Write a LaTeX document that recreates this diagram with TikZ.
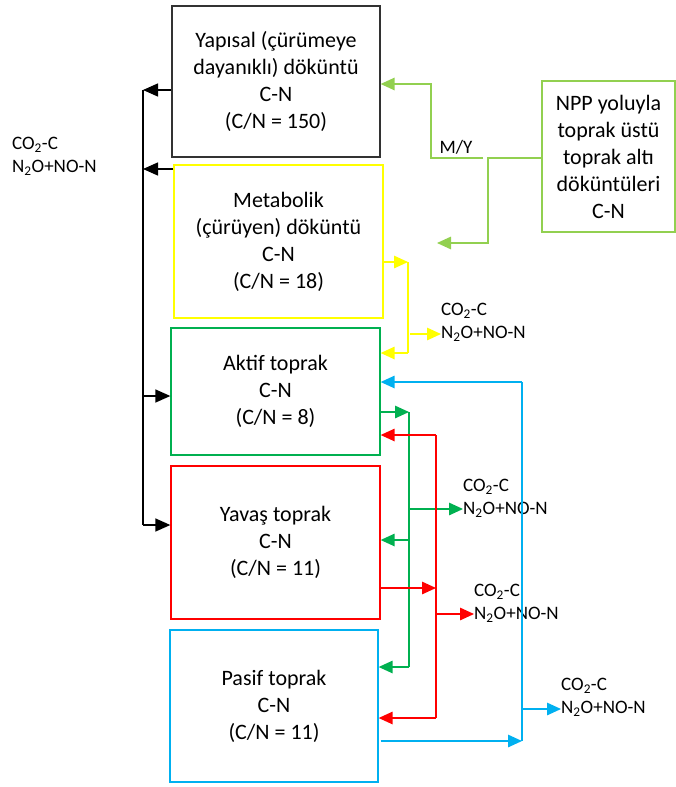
\documentclass[tikz,border=0pt]{standalone}
\usepackage{fontspec}
\setmainfont{Carlito}
\usetikzlibrary{arrows.meta}
\definecolor{cDark}{RGB}{50,50,50}
\definecolor{cYel}{RGB}{255,255,0}
\definecolor{cGrn}{RGB}{0,176,80}
\definecolor{cLgr}{RGB}{146,208,80}
\definecolor{cRed}{RGB}{255,0,0}
\definecolor{cBlu}{RGB}{0,176,240}
\begin{document}
\begin{tikzpicture}[x=1pt,y=-1pt,
  box/.style={draw, line width=1.3pt, align=center, inner sep=0pt,
    font=\fontsize{22}{27}\selectfont},
  lab/.style={align=left, anchor=west, inner sep=0pt,
    font=\fontsize{19}{23}\selectfont},
  flow/.style={line width=1.4pt},
  arr/.style={flow, -{Triangle[length=14pt,width=12.5pt]}},
  barr/.style={flow, -{Triangle[length=15pt,width=13pt]}},
]
\useasboundingbox (0,0) rectangle (676,787);

% pools
\node[box, draw=cDark, minimum width=208pt, minimum height=151pt] (yap) at (276,81.5)
  {Yapısal (çürümeye\\dayanıklı) döküntü\\C-N\\(C/N = 150)};
\node[box, draw=cYel, minimum width=209pt, minimum height=153pt] (met) at (278.5,241.5)
  {Metabolik\\(çürüyen) döküntü\\C-N\\(C/N = 18)};
\node[box, draw=cGrn, minimum width=209pt, minimum height=127pt] (akt) at (275.5,391.5)
  {Aktif toprak\\C-N\\(C/N = 8)};
\node[box, draw=cRed, minimum width=209pt, minimum height=153pt] (yav) at (275.5,542.5)
  {Yavaş toprak\\C-N\\(C/N = 11)};
\node[box, draw=cBlu, minimum width=208pt, minimum height=152pt] (pas) at (274,706)
  {Pasif toprak\\C-N\\(C/N = 11)};
\node[box, draw=cLgr, minimum width=133pt, minimum height=151pt] (npp) at (608.5,156.5)
  {NPP yoluyla\\toprak üstü\\toprak altı\\döküntüleri\\C-N};

% gas outputs
\node[lab] (g0) at (12,156) {CO\textsubscript{2}-C\\N\textsubscript{2}O+NO-N};
\node[lab] (g1) at (441,322) {CO\textsubscript{2}-C\\N\textsubscript{2}O+NO-N};
\node[lab] (g2) at (463,498) {CO\textsubscript{2}-C\\N\textsubscript{2}O+NO-N};
\node[lab] (g3) at (474,603) {CO\textsubscript{2}-C\\N\textsubscript{2}O+NO-N};
\node[lab] (g4) at (561,697) {CO\textsubscript{2}-C\\N\textsubscript{2}O+NO-N};
\node[lab, anchor=center] (my) at (456,147) {M/Y};

% black: respiration trunk on the left
\coordinate (bk1) at (143,90);
\coordinate (bk2) at (143,169);
\coordinate (bk3) at (143,396);
\coordinate (bk4) at (143,525);
\draw[flow] (bk1) -- (bk4);
\draw[barr] (yap.west |- bk1) -- (bk1);
\draw[barr] (met.west |- bk2) -- (bk2);
\draw[barr] (bk3) -- (akt.west |- bk3);
\draw[barr] (bk4) -- (yav.west |- bk4);

% light green: litter input split
\coordinate (lg1) at (483,158);
\coordinate (lg2) at (431,84);
\coordinate (lg3) at (488,243);
\coordinate (lg4) at (437,243);
\draw[arr, cLgr] (lg1) -- (lg1 -| lg2) -- (lg2) -- (yap.east |- lg2);
\draw[arr, cLgr] (npp.west |- lg1) -- (lg3 |- lg1) -- (lg3) -- (lg4);

% yellow: metabolic litter
\coordinate (y1) at (408,262);
\coordinate (y2) at (408,353);
\coordinate (y3) at (410,334);
\draw[arr, cYel] (met.east |- y1) -- (y1);
\draw[flow, cYel] (y1) -- (y2);
\draw[arr, cYel] (y2) -- (akt.east |- y2);
\draw[arr, cYel] (y3) -- (g1.west |- y3);

% blue: passive pool
\coordinate (b1) at (522,382);
\coordinate (b2) at (522,741);
\coordinate (b3) at (522,709);
\draw[flow, cBlu] (b1) -- (b2);
\draw[arr, cBlu] (b1) -- (akt.east |- b1);
\draw[arr, cBlu] ([xshift=2pt]pas.east |- b2) -- (b2);
\draw[arr, cBlu] (b3) -- (g4.west |- b3);

% green: active pool
\coordinate (e1) at (409,412);
\coordinate (e2) at (409,667);
\coordinate (e3) at (409,540);
\coordinate (e4) at (409,509);
\draw[arr, cGrn] (akt.east |- e1) -- (e1);
\draw[flow, cGrn] (e1) -- (e2);
\draw[arr, cGrn] (e3) -- (yav.east |- e3);
\draw[arr, cGrn] (e2) -- (pas.east |- e2);
\draw[arr, cGrn] (e4) -- (g2.west |- e4);

% red: slow pool
\coordinate (r1) at (436,588);
\coordinate (r2) at (436,435);
\coordinate (r3) at (436,718);
\coordinate (r4) at (436,614);
\draw[arr, cRed] (yav.east |- r1) -- (r1);
\draw[flow, cRed] (r2) -- (r3);
\draw[arr, cRed] (r2) -- (akt.east |- r2);
\draw[arr, cRed] (r3) -- (pas.east |- r3);
\draw[arr, cRed] (r4) -- (g3.west |- r4);
\end{tikzpicture}
\end{document}
